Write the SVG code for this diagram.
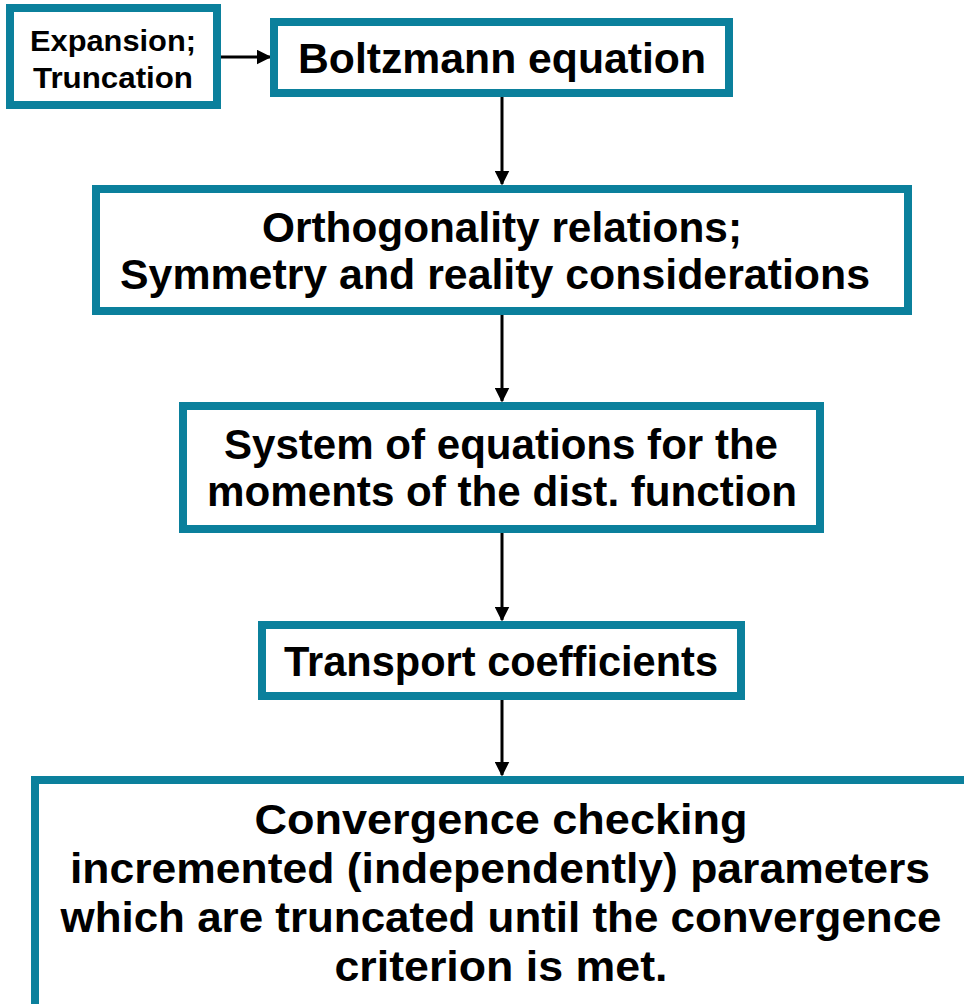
<svg xmlns="http://www.w3.org/2000/svg" width="964" height="1004" viewBox="0 0 964 1004">
<defs>
<style>
.box{fill:#ffffff;stroke:#0B809C;stroke-width:8}
.t{font-family:"Liberation Sans",Arial,sans-serif;font-weight:bold;font-size:42px;fill:#000;text-anchor:middle}
.s{font-size:29px}
.c{stroke:#000;stroke-width:3;fill:none}
</style>
<marker id="ah" markerWidth="5" markerHeight="5" refX="4.5" refY="2.5" orient="auto" markerUnits="strokeWidth">
<path d="M0,0 L5,2.5 L0,5 Z" fill="#000"/>
</marker>
</defs>
<rect width="964" height="1004" fill="#ffffff"/>
<g id="connectors">
<line class="c" x1="221" y1="57" x2="270" y2="57" marker-end="url(#ah)"/>
<line class="c" x1="502" y1="97" x2="502" y2="184" marker-end="url(#ah)"/>
<line class="c" x1="502" y1="315" x2="502" y2="401" marker-end="url(#ah)"/>
<line class="c" x1="502" y1="533" x2="502" y2="620" marker-end="url(#ah)"/>
<line class="c" x1="502" y1="700" x2="502" y2="775" marker-end="url(#ah)"/>
</g>
<g id="expansion">
<rect class="box" x="10" y="8" width="207" height="97"/>
<text class="t s" x="113" y="51" textLength="166" lengthAdjust="spacingAndGlyphs">Expansion;</text>
<text class="t s" x="113" y="88" textLength="160" lengthAdjust="spacingAndGlyphs">Truncation</text>
</g>
<g id="boltzmann">
<rect class="box" x="274" y="22" width="455" height="71"/>
<text class="t" x="502" y="73" textLength="408" lengthAdjust="spacingAndGlyphs">Boltzmann equation</text>
</g>
<g id="orthogonality">
<rect class="box" x="96" y="189" width="812" height="122"/>
<text class="t" x="502" y="242" textLength="480" lengthAdjust="spacingAndGlyphs">Orthogonality relations;</text>
<text class="t" x="495" y="289" textLength="750" lengthAdjust="spacingAndGlyphs">Symmetry and reality considerations</text>
</g>
<g id="system">
<rect class="box" x="183" y="406" width="637" height="123"/>
<text class="t" x="501" y="459" textLength="554" lengthAdjust="spacingAndGlyphs">System of equations for the</text>
<text class="t" x="502" y="506" textLength="590" lengthAdjust="spacingAndGlyphs">moments of the dist. function</text>
</g>
<g id="transport">
<rect class="box" x="262" y="625" width="479" height="71"/>
<text class="t" x="501" y="676" textLength="434" lengthAdjust="spacingAndGlyphs">Transport coefficients</text>
</g>
<g id="convergence">
<rect class="box" x="35" y="780" width="940" height="230"/>
<text class="t" x="501" y="834" textLength="493" lengthAdjust="spacingAndGlyphs">Convergence checking</text>
<text class="t" x="500" y="883" textLength="860" lengthAdjust="spacingAndGlyphs">incremented (independently) parameters</text>
<text class="t" x="501" y="932" textLength="881" lengthAdjust="spacingAndGlyphs">which are truncated until the convergence</text>
<text class="t" x="501" y="981" textLength="333" lengthAdjust="spacingAndGlyphs">criterion is met.</text>
</g>
</svg>
